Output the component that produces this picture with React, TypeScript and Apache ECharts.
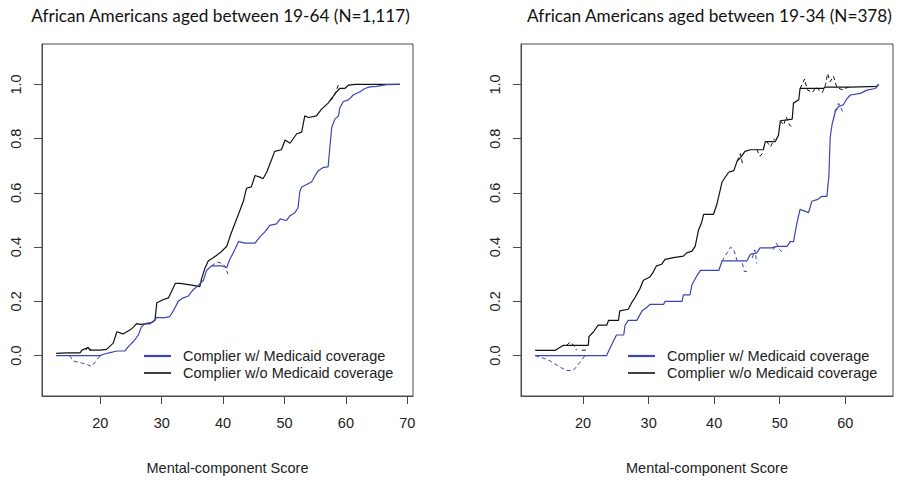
import React, { useEffect, useRef } from "react";
import * as echarts from "echarts";

const leftTitle = "African Americans aged between 19-64 (N=1,117)";
const rightTitle = "African Americans aged between 19-34 (N=378)";
const xAxisName = "Mental-component Score";
const legendNames = ["Complier w/ Medicaid coverage", "Complier w/o Medicaid coverage"];
const yTicks = [0, 0.2, 0.4, 0.6, 0.8, 1.0];
const xTicksLeft = [20, 30, 40, 50, 60, 70];
const xTicksRight = [20, 30, 40, 50, 60];

// Left panel (19-64)
const leftBlack: number[][] = [
  [12.8, 0.008], [14.5, 0.01], [16.7, 0.01], [17.0, 0.02], [18.0, 0.03], [18.3, 0.02], [20.0, 0.02], [21.0, 0.023],
  [22.1, 0.046], [22.7, 0.088], [23.7, 0.08], [24.8, 0.094], [25.4, 0.105], [25.9, 0.118], [26.5, 0.115], [28.1, 0.118],
  [28.9, 0.13], [29.2, 0.195], [30.3, 0.207], [31.1, 0.213], [31.6, 0.236], [32.2, 0.266], [33.0, 0.266], [34.9, 0.26],
  [36.2, 0.254], [36.5, 0.284], [37.0, 0.32], [37.6, 0.35], [38.4, 0.361], [39.5, 0.379], [40.6, 0.403], [41.1, 0.438],
  [41.7, 0.474], [42.5, 0.521], [43.3, 0.569], [43.8, 0.617], [44.6, 0.622], [45.2, 0.664], [46.0, 0.658], [46.5, 0.652],
  [47.1, 0.676], [47.9, 0.723], [48.4, 0.753], [49.5, 0.759], [50.1, 0.795], [50.9, 0.783], [52.0, 0.818], [52.8, 0.824],
  [53.3, 0.884], [53.9, 0.878], [55.2, 0.884], [56.0, 0.908], [57.1, 0.931], [57.9, 0.955], [58.5, 0.973], [59.0, 0.985],
  [59.8, 0.985], [60.4, 0.997], [61.5, 1.0], [68.8, 1.0],
];
const leftBlue: number[][] = [
  [12.8, 0], [20.0, 0], [20.5, 0.005], [21.6, 0.011], [22.7, 0.017], [24.0, 0.017], [24.6, 0.034], [25.4, 0.052],
  [26.2, 0.076], [26.7, 0.106], [27.3, 0.118], [28.6, 0.124], [29.2, 0.141], [30.3, 0.139], [31.3, 0.144], [31.9, 0.165],
  [32.7, 0.2], [33.5, 0.213], [34.3, 0.219], [35.1, 0.242], [36.0, 0.26], [36.8, 0.278], [37.3, 0.314], [38.1, 0.331],
  [39.8, 0.331], [40.6, 0.325], [41.1, 0.355], [41.9, 0.39], [42.5, 0.42], [43.6, 0.415], [45.2, 0.415], [46.0, 0.438],
  [46.8, 0.456], [47.6, 0.48], [48.7, 0.486], [49.3, 0.504], [50.3, 0.498], [50.9, 0.516], [51.7, 0.527], [52.2, 0.545],
  [52.5, 0.605], [52.8, 0.622], [54.4, 0.64], [55.0, 0.664], [55.5, 0.682], [56.3, 0.694], [57.1, 0.696], [57.4, 0.771],
  [57.7, 0.842], [58.2, 0.872], [58.8, 0.884], [59.0, 0.913], [59.6, 0.937], [60.4, 0.943], [61.2, 0.961], [62.3, 0.973],
  [63.1, 0.985], [63.9, 0.991], [65.0, 0.993], [66.6, 0.999], [68.8, 1.0],
];
const leftBlueDash: number[][][] = [
  [[15.0, 0], [15.6, -0.02], [16.5, -0.025], [17.5, -0.03], [18.6, -0.04], [19.3, -0.02], [20.0, 0]],
  [[38.1, 0.331], [39.0, 0.345], [39.8, 0.34], [40.3, 0.33], [40.8, 0.3]],
];
const leftBlackDash: number[][][] = [
  [[17.6, 0.02], [18.1, 0.033], [18.5, 0.02]],
  [[57.4, 0.94], [57.9, 0.95], [58.4, 0.975], [58.8, 1.0]],
];

// Right panel (19-34)
const rightBlack: number[][] = [
  [12.7, 0.019], [15.7, 0.019], [17.0, 0.038], [20.8, 0.038], [20.9, 0.07], [21.6, 0.088], [22.3, 0.112], [23.6, 0.112],
  [23.9, 0.13], [25.4, 0.13], [25.6, 0.165], [26.9, 0.171], [27.4, 0.195], [27.9, 0.213], [28.7, 0.248], [29.2, 0.278],
  [30.2, 0.29], [30.7, 0.308], [31.2, 0.331], [32.0, 0.337], [32.5, 0.355], [33.8, 0.361], [35.3, 0.367], [35.8, 0.379],
  [36.6, 0.385], [37.1, 0.403], [37.6, 0.462], [38.1, 0.492], [38.4, 0.521], [39.9, 0.521], [40.4, 0.557], [41.2, 0.64],
  [42.2, 0.676], [43.0, 0.682], [43.5, 0.717], [44.0, 0.729], [44.7, 0.753], [45.5, 0.759], [47.5, 0.759], [47.8, 0.789],
  [49.3, 0.789], [49.8, 0.812], [50.1, 0.866], [51.9, 0.872], [52.1, 0.931], [52.9, 0.943], [53.1, 0.985], [56.7, 0.985],
  [56.9, 0.99], [60.8, 0.99], [64.8, 0.993], [65.1, 1.0],
];
const rightBlue: number[][] = [
  [12.7, 0], [23.6, 0], [23.9, 0.017], [24.6, 0.052], [25.1, 0.076], [26.2, 0.076], [26.4, 0.112], [26.9, 0.13],
  [28.2, 0.13], [29.0, 0.165], [29.7, 0.177], [30.2, 0.189], [32.3, 0.189], [32.5, 0.2], [35.1, 0.2], [35.3, 0.224],
  [36.3, 0.224], [36.6, 0.26], [37.4, 0.296], [37.9, 0.314], [40.7, 0.314], [41.2, 0.349], [45.0, 0.349], [45.5, 0.373],
  [46.5, 0.379], [47.0, 0.397], [48.8, 0.397], [49.6, 0.403], [51.1, 0.403], [51.6, 0.42], [52.1, 0.42], [52.6, 0.486],
  [53.1, 0.539], [54.4, 0.527], [54.9, 0.569], [55.7, 0.575], [56.4, 0.587], [57.2, 0.587], [57.5, 0.664], [57.7, 0.806],
  [58.0, 0.854], [58.5, 0.901], [59.0, 0.919], [59.7, 0.925], [60.3, 0.949], [60.8, 0.961], [62.3, 0.967], [63.3, 0.979],
  [64.6, 0.985], [65.1, 1.0],
];
const rightBlueDash: number[][][] = [
  [[12.7, 0], [14.0, -0.01], [15.0, -0.02], [16.3, -0.04], [17.5, -0.055], [18.5, -0.055], [19.2, -0.035], [20.3, 0]],
  [[41.2, 0.349], [42.0, 0.38], [42.5, 0.4], [43.0, 0.39], [43.5, 0.35]],
  [[44.3, 0.34], [44.6, 0.31], [45.0, 0.31]],
  [[45.8, 0.36], [46.2, 0.39], [46.5, 0.34]],
  [[49.0, 0.39], [49.5, 0.415], [50.0, 0.39], [50.5, 0.38]],
  [[58.4, 0.9], [59.0, 0.93], [59.6, 0.9]],
];
const rightBlackDash: number[][][] = [
  [[17.5, 0.038], [18.0, 0.05], [18.7, 0.035], [19.0, 0.02]],
  [[19.8, 0.02], [20.5, 0.02]],
  [[43.5, 0.717], [44.0, 0.745], [44.3, 0.71]],
  [[46.5, 0.76], [47.0, 0.735], [47.5, 0.75]],
  [[48.0, 0.79], [48.6, 0.77], [49.2, 0.8]],
  [[50.1, 0.866], [50.6, 0.85], [51.0, 0.88], [51.5, 0.85], [51.9, 0.84]],
  [[53.1, 0.985], [53.8, 1.02], [54.2, 0.98], [55.0, 0.97], [55.5, 0.99], [56.5, 0.97], [57.0, 1.0], [57.3, 1.04],
   [57.7, 1.01], [58.2, 1.03], [58.7, 0.99], [59.5, 0.98], [60.5, 0.99]],
];

const BLUE = "#3a45b2";
const BLACK = "#111111";
const AXIS = "#4a4a4a";
const FONT = "'Liberation Sans', Arial, sans-serif";
const Y_MIN = -0.149;
const Y_MAX = 1.149;

function solid(name: string, data: number[][], color: string, idx: number) {
  return {
    type: "line", name, data, xAxisIndex: idx, yAxisIndex: idx, showSymbol: false, symbol: "none",
    lineStyle: { color, width: 1.2 }, silent: true, z: color === BLUE ? 3 : 2,
  };
}
function dashed(segs: number[][][], color: string, idx: number) {
  return segs.map((d) => ({
    type: "line", data: d, xAxisIndex: idx, yAxisIndex: idx, showSymbol: false, symbol: "none",
    lineStyle: { color, width: 1, type: [4, 3] }, silent: true, z: 1,
  }));
}

function xAxisFor(idx: number, min: number, max: number, ticks: number[]) {
  return {
    type: "value", gridIndex: idx, min, max, position: "bottom",
    axisLine: { show: true, onZero: false, lineStyle: { color: AXIS, width: 1 } },
    splitLine: { show: false },
    axisTick: { show: true, inside: false, length: 8, customValues: ticks, lineStyle: { color: AXIS, width: 1 } },
    axisLabel: { customValues: ticks, margin: 19, color: "#222", fontSize: 14.5, fontFamily: FONT },
    name: xAxisName, nameLocation: "middle", nameGap: 64,
    nameTextStyle: { color: "#222", fontSize: 14.5, fontFamily: FONT },
  };
}
function yAxisFor(idx: number) {
  return {
    type: "value", gridIndex: idx, min: Y_MIN, max: Y_MAX, position: "left",
    axisLine: { show: true, onZero: false, lineStyle: { color: AXIS, width: 1 } },
    splitLine: { show: false },
    axisTick: { show: true, inside: false, length: 8, customValues: yTicks, lineStyle: { color: AXIS, width: 1 } },
    axisLabel: {
      customValues: yTicks, rotate: 90, margin: 19, color: "#222", fontSize: 14.5, fontFamily: FONT,
      formatter: (v: number) => v.toFixed(1),
    },
  };
}

function legendGraphics(x0: number) {
  const txt = { fill: "#222", fontSize: 14.5, fontFamily: FONT, verticalAlign: "middle", align: "left" };
  return [
    { type: "line", shape: { x1: x0, y1: 356, x2: x0 + 27, y2: 356 }, style: { stroke: BLUE, lineWidth: 2.2 } },
    { type: "line", shape: { x1: x0, y1: 373, x2: x0 + 27, y2: 373 }, style: { stroke: BLACK, lineWidth: 1.6 } },
    { type: "text", x: x0 + 39, y: 356, style: { ...txt, text: legendNames[0] } },
    { type: "text", x: x0 + 39, y: 373, style: { ...txt, text: legendNames[1] } },
  ];
}

export default function App() {
  const ref = useRef<HTMLDivElement>(null);
  useEffect(() => {
    if (!ref.current) return;
    const chart = echarts.init(ref.current, undefined, { renderer: "svg" });
    const titleStyle = { fill: "#111", fontSize: 17.2, fontFamily: "Lato, 'Open Sans', sans-serif", align: "center", verticalAlign: "middle" };
    chart.setOption({
      animation: false,
      backgroundColor: "#ffffff",
      grid: [
        { left: 42, top: 44, width: 371, height: 364, show: true, borderColor: AXIS, borderWidth: 1, backgroundColor: "transparent" },
        { left: 521, top: 44, width: 372, height: 364, show: true, borderColor: AXIS, borderWidth: 1, backgroundColor: "transparent" },
      ],
      xAxis: [xAxisFor(0, 10.5, 70.93, xTicksLeft), xAxisFor(1, 10.53, 67.28, xTicksRight)],
      yAxis: [yAxisFor(0), yAxisFor(1)],
      series: [
        ...dashed(leftBlueDash, BLUE, 0),
        ...dashed(leftBlackDash, BLACK, 0),
        solid(legendNames[1], leftBlack, BLACK, 0),
        solid(legendNames[0], leftBlue, BLUE, 0),
        ...dashed(rightBlueDash, BLUE, 1),
        ...dashed(rightBlackDash, BLACK, 1),
        solid(legendNames[1], rightBlack, BLACK, 1),
        solid(legendNames[0], rightBlue, BLUE, 1),
      ],
      graphic: [
        { type: "text", x: 220.5, y: 15, style: { ...titleStyle, text: leftTitle } },
        { type: "text", x: 709.5, y: 15, style: { ...titleStyle, text: rightTitle } },
        ...legendGraphics(144),
        ...legendGraphics(628),
      ],
    });
    return () => chart.dispose();
  }, []);
  return <div ref={ref} style={{ position: "fixed", left: 0, top: 0, width: 901, height: 480, background: "#fff" }} />;
}
